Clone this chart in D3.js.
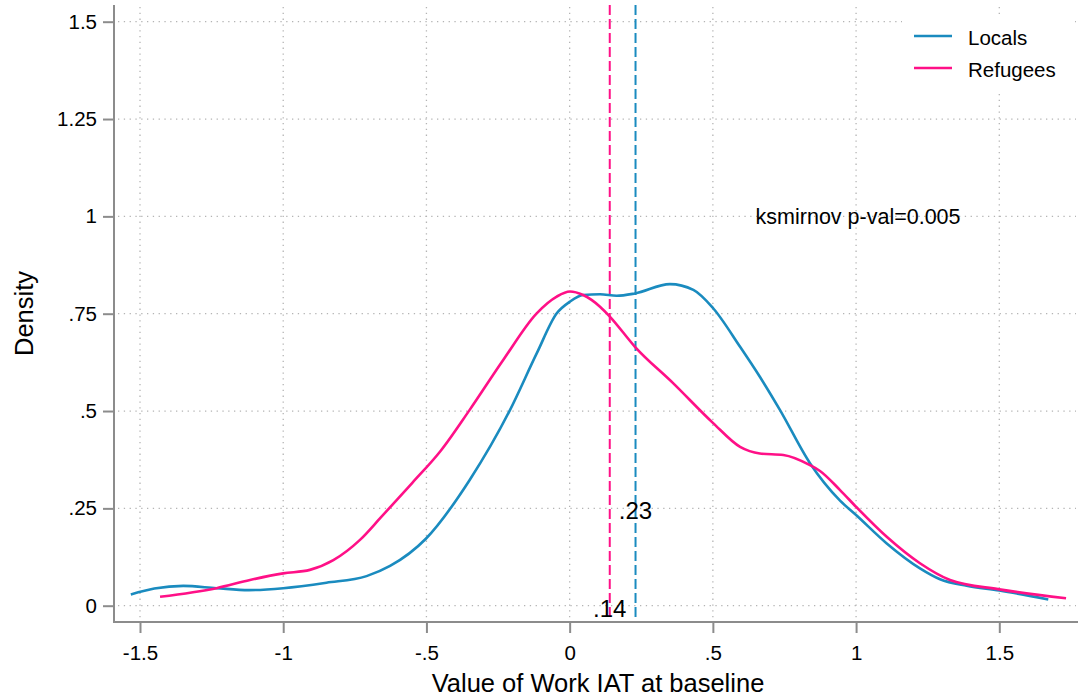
<!DOCTYPE html>
<html>
<head>
<meta charset="utf-8">
<script src="https://cdn.jsdelivr.net/npm/d3@7"></script>
<style>
  body { margin: 0; background: #fff; }
  svg { font-family: "Liberation Sans", Arial, Helvetica, sans-serif; }
</style>
</head>
<body>
<div id="chart"></div>
<script>
// density curves
const localsX = [-1.532, -1.45, -1.349, -1.233, -1.12, -1.0, -0.849, -0.709, -0.627, -0.502, -0.349, -0.208, -0.115, -0.045, 0.001, 0.047, 0.106, 0.164, 0.228, 0.350, 0.432, 0.501, 0.595, 0.664, 0.734, 0.839, 0.944, 1.0, 1.107, 1.223, 1.293, 1.386, 1.5, 1.671];
const localsY = [0.029, 0.044, 0.051, 0.045, 0.040, 0.045, 0.059, 0.076, 0.102, 0.172, 0.323, 0.503, 0.648, 0.751, 0.781, 0.798, 0.800, 0.796, 0.802, 0.826, 0.811, 0.764, 0.665, 0.588, 0.503, 0.366, 0.270, 0.233, 0.160, 0.096, 0.068, 0.051, 0.039, 0.016];

const refugeesX = [-1.43, -1.233, -1.116, -1.0, -0.907, -0.825, -0.732, -0.66, -0.55, -0.45, -0.349, -0.232, -0.115, -0.045, 0.001, 0.047, 0.106, 0.141, 0.228, 0.362, 0.501, 0.595, 0.664, 0.746, 0.839, 0.874, 0.944, 1.0, 1.107, 1.223, 1.328, 1.5, 1.733];
const refugeesY = [0.023, 0.045, 0.066, 0.083, 0.092, 0.117, 0.169, 0.226, 0.315, 0.398, 0.503, 0.631, 0.751, 0.794, 0.807, 0.798, 0.768, 0.742, 0.665, 0.571, 0.469, 0.408, 0.391, 0.387, 0.361, 0.346, 0.297, 0.254, 0.177, 0.109, 0.066, 0.042, 0.019];

const seriesNames = ["Locals", "Refugees"];
const seriesColors = ["#1a8bbf", "#ff1087"];
const meanValues = [0.23, 0.14];
const meanLabels = [".23", ".14"];
const meanLabelY = [0.25, 0];

const xTicks = [-1.5, -1, -0.5, 0, 0.5, 1, 1.5];
const xTickLabels = ["-1.5", "-1", "-.5", "0", ".5", "1", "1.5"];
const yTicks = [0, 0.25, 0.5, 0.75, 1, 1.25, 1.5];
const yTickLabels = ["0", ".25", ".5", ".75", "1", "1.25", "1.5"];

const ksText = "ksmirnov p-val=0.005";
const ksPos = [1.0, 1.0];

const width = 1080, height = 700;
const plotLeft = 114, plotRight = 1078, plotTop = 5, plotBottom = 622;

const svg = d3.select("#chart").append("svg")
    .attr("width", width)
    .attr("height", height);

const xScale = d3.scaleLinear().domain([-1.5, 1.5]).range([140, 999.3]);
const yScale = d3.scaleLinear().domain([0, 1.5]).range([605.7, 21.7]);

// grid
const grid = svg.append("g")
    .attr("stroke", "#b4b4b4")
    .attr("stroke-width", 1.3)
    .attr("stroke-dasharray", "1.3,4.5");

grid.selectAll(".hgrid").data(yTicks).enter().append("line")
    .attr("x1", plotLeft + 4).attr("x2", plotRight - 2)
    .attr("y1", d => yScale(d)).attr("y2", d => yScale(d));

grid.selectAll(".vgrid").data(xTicks).enter().append("line")
    .attr("x1", d => xScale(d)).attr("x2", d => xScale(d))
    .attr("y1", plotTop + 2).attr("y2", plotBottom - 3);

// axes
const yAxis = svg.append("g")
    .attr("transform", `translate(${plotLeft},0)`)
    .call(d3.axisLeft(yScale).tickValues(yTicks).tickSize(11).tickPadding(6)
        .tickFormat((d, i) => yTickLabels[i]));

const xAxis = svg.append("g")
    .attr("transform", `translate(0,${plotBottom})`)
    .call(d3.axisBottom(xScale).tickValues(xTicks).tickSize(11).tickPadding(12)
        .tickFormat((d, i) => xTickLabels[i]));

[xAxis, yAxis].forEach(ax => {
    ax.select(".domain").remove();
    ax.selectAll(".tick line").attr("stroke", "#8c8c8c").attr("stroke-width", 2);
    ax.selectAll(".tick text").attr("fill", "#000").style("font-size", "20.5px");
});

svg.append("line")
    .attr("x1", plotLeft).attr("x2", plotLeft)
    .attr("y1", plotTop).attr("y2", plotBottom + 1)
    .attr("stroke", "#8c8c8c").attr("stroke-width", 2);
svg.append("line")
    .attr("x1", plotLeft - 1).attr("x2", plotRight)
    .attr("y1", plotBottom).attr("y2", plotBottom)
    .attr("stroke", "#8c8c8c").attr("stroke-width", 2);

// mean lines
meanValues.forEach((m, i) => {
    svg.append("line")
        .attr("x1", xScale(m)).attr("x2", xScale(m))
        .attr("y1", plotTop).attr("y2", plotBottom - 1)
        .attr("stroke", seriesColors[i])
        .attr("stroke-width", 2)
        .attr("stroke-dasharray", "10,4");
});

// density curves
const line = d3.line()
    .x(d => xScale(d[0]))
    .y(d => yScale(d[1]))
    .curve(d3.curveMonotoneX);

const curves = [
    d3.zip(localsX, localsY),
    d3.zip(refugeesX, refugeesY)
];

curves.forEach((pts, i) => {
    svg.append("path")
        .datum(pts)
        .attr("d", line)
        .attr("fill", "none")
        .attr("stroke", seriesColors[i])
        .attr("stroke-width", 2.6);
});

// mean labels
meanValues.forEach((m, i) => {
    svg.append("text")
        .attr("x", xScale(m))
        .attr("y", yScale(meanLabelY[i]) + 11)
        .attr("text-anchor", "middle")
        .style("font-size", "24px")
        .text(meanLabels[i]);
});

// ks test text
svg.append("text")
    .attr("x", xScale(ksPos[0]) + 2)
    .attr("y", yScale(ksPos[1]) + 8)
    .attr("text-anchor", "middle")
    .style("font-size", "21.5px")
    .text(ksText);

// legend
const legend = svg.append("g");
legend.append("rect")
    .attr("x", 902).attr("y", 14)
    .attr("width", 172).attr("height", 80)
    .attr("fill", "#fff");

seriesNames.forEach((name, i) => {
    const yy = 36 + i * 32;
    legend.append("line")
        .attr("x1", 914).attr("x2", 952)
        .attr("y1", yy).attr("y2", yy)
        .attr("stroke", seriesColors[i])
        .attr("stroke-width", 2.6);
    legend.append("text")
        .attr("x", 968)
        .attr("y", yy + 9)
        .style("font-size", "20.5px")
        .text(name);
});

// axis titles
svg.append("text")
    .attr("x", (plotLeft + plotRight) / 2 + 2)
    .attr("y", 692)
    .attr("text-anchor", "middle")
    .style("font-size", "25.5px")
    .text("Value of Work IAT at baseline");

svg.append("text")
    .attr("transform", `translate(33,${(plotTop + plotBottom) / 2}) rotate(-90)`)
    .attr("text-anchor", "middle")
    .style("font-size", "25.5px")
    .text("Density");
</script>
</body>
</html>
